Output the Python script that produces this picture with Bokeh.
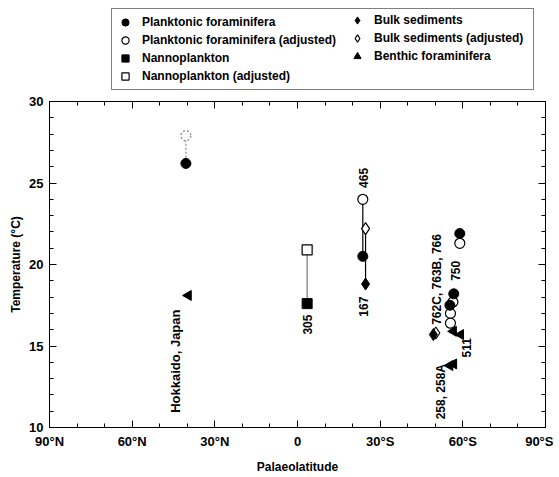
import numpy as np
from bokeh.plotting import figure
from bokeh.layouts import column
from bokeh.models import Range1d, FixedTicker, LinearAxis, Legend, LegendItem
from bokeh.core.properties import value
from bokeh.embed import file_html
from bokeh.resources import INLINE

FONT = "Liberation Sans"

# palaeolatitude: negative = north, positive = south
pf_lat = [-40.5, 23.7, 58.9, 56.7, 55.3]
pf_temp = [26.2, 20.5, 21.9, 18.2, 17.5]
pfa_lat = [23.7, 58.9, 56.4, 55.5, 55.5]
pfa_temp = [24.0, 21.3, 17.7, 17.0, 16.4]
hok_adj_lat = [-40.5]
hok_adj_temp = [27.9]
nan_lat = [3.5]
nan_temp = [17.6]
nana_lat = [3.5]
nana_temp = [20.9]
bulk_lat = [24.7, 49.3]
bulk_temp = [18.8, 15.7]
bulka_lat = [24.7, 50.2]
bulka_temp = [22.2, 15.8]
ben_lat = [-39.6, 56.6, 59.2, 55.3, 56.7]
ben_temp = [18.1, 15.9, 15.7, 13.8, 13.9]

# adjusted / measured pairs joined by lines
pair_lat = [3.5, 23.7, 24.7, 58.9]
pair_adj = [20.9, 24.0, 22.2, 21.9]
pair_meas = [17.6, 20.5, 18.8, 21.3]
pair_color = ["#777777", "black", "black", "black"]

# site labels
label_text = ["Hokkaido, Japan", "305", "167", "465", "762C, 763B, 766", "750", "511", "258, 258A"]
label_lat = [-44.3, 3.5, 23.9, 23.9, 50.8, 57.3, 61.3, 51.9]
label_temp = [10.9, 15.7, 16.8, 24.7, 16.3, 19.0, 14.3, 10.5]
label_size = ["13px", "12px", "12px", "12px", "12px", "12px", "12px", "12px"]

x_ticks = [-90, -60, -30, 0, 30, 60, 90]
x_tick_labels = ["90°N", "60°N", "30°N", "0", "30°S", "60°S", "90°S"]
x_minor = list(range(-90, 91, 10))
y_ticks = [10, 15, 20, 25, 30]
y_minor = list(range(10, 31))

STYLES = {
    "pf": dict(marker="circle", size=10, fill_color="black", line_color="black"),
    "pfa": dict(marker="circle", size=10, fill_color="white", line_color="black", line_width=1.2),
    "nan": dict(marker="square", size=10, fill_color="black", line_color="black"),
    "nana": dict(marker="square", size=10, fill_color="white", line_color="black", line_width=1.2),
    "bulk": dict(marker="diamond", size=12, fill_color="black", line_color="black"),
    "bulka": dict(marker="diamond", size=12, fill_color="white", line_color="black", line_width=1.2),
    "ben": dict(marker="triangle", size=10, angle=np.pi / 2, fill_color="black", line_color="black"),
}
SERIES = {
    "pf": (pf_lat, pf_temp), "pfa": (pfa_lat, pfa_temp),
    "nan": (nan_lat, nan_temp), "nana": (nana_lat, nana_temp),
    "bulk": (bulk_lat, bulk_temp), "bulka": (bulka_lat, bulka_temp),
    "ben": (ben_lat, ben_temp),
}

# ---------------- main plot ----------------
p = figure(width=553, height=384, output_backend="svg", toolbar_location=None,
           x_range=Range1d(-90, 90), y_range=Range1d(10, 30),
           min_border_left=49, min_border_right=8, min_border_top=9, min_border_bottom=48)
p.background_fill_color = "white"
p.border_fill_color = "white"
p.outline_line_color = "black"
p.outline_line_width = 1
p.xgrid.visible = False
p.ygrid.visible = False

def style_axis(ax, labels=True):
    ax.axis_line_color = "black"
    ax.major_tick_in = 7
    ax.major_tick_out = 0
    ax.minor_tick_in = 4
    ax.minor_tick_out = 0
    ax.major_tick_line_color = "black"
    ax.minor_tick_line_color = "black"
    ax.major_label_text_font = FONT
    ax.major_label_text_font_style = "bold"
    ax.major_label_text_font_size = "13px" if labels else "0px"
    ax.major_label_text_color = "black"
    ax.axis_label_text_font = FONT
    ax.axis_label_text_font_style = "bold"
    ax.axis_label_text_font_size = "12px"
    ax.axis_label_text_color = "black"

xt = FixedTicker(ticks=x_ticks, minor_ticks=x_minor)
yt = FixedTicker(ticks=y_ticks, minor_ticks=y_minor)

p.xaxis.ticker = xt
p.xaxis.major_label_overrides = dict(zip(x_ticks, x_tick_labels))
p.xaxis.axis_label = "Palaeolatitude"
p.xaxis.major_label_standoff = 6
p.xaxis.axis_label_standoff = 8
p.yaxis.ticker = yt
p.yaxis.axis_label = "Temperature (°C)"
p.yaxis.major_label_standoff = 6
p.yaxis.axis_label_standoff = 3
style_axis(p.xaxis[0])
style_axis(p.yaxis[0])

top_ax = LinearAxis(ticker=xt)
style_axis(top_ax, labels=False)
p.add_layout(top_ax, "above")
right_ax = LinearAxis(ticker=yt)
style_axis(right_ax, labels=False)
p.add_layout(right_ax, "right")

# connecting lines
p.segment(x0=pair_lat, y0=pair_adj, x1=pair_lat, y1=pair_meas, line_color=pair_color, line_width=1.2)
p.segment(x0=hok_adj_lat, y0=hok_adj_temp, x1=pf_lat[:1], y1=pf_temp[:1],
          line_color="#888888", line_width=1.2, line_dash="2 2")

p.scatter(*SERIES["pfa"], **STYLES["pfa"])
p.scatter(hok_adj_lat, hok_adj_temp, marker="circle", size=10, fill_color="white",
          line_color="#888888", line_width=1.2, line_dash="2 2")
for k in ["nana", "bulka", "pf", "nan", "bulk", "ben"]:
    p.scatter(*SERIES[k], **STYLES[k])

p.text(x=label_lat, y=label_temp, text=label_text, angle=np.pi / 2,
       text_align="left", text_baseline="middle", text_font=value(FONT),
       text_font_style="bold", text_font_size=label_size, text_color="black")

# ---------------- legend strip (its ranges keep the key marks out of view) ----------------
lf = figure(width=553, height=92, output_backend="svg", toolbar_location=None,
            x_axis_type=None, y_axis_type=None, x_range=Range1d(200, 300), y_range=Range1d(200, 300),
            min_border=0)
lf.outline_line_color = None
lf.xgrid.visible = False
lf.ygrid.visible = False
key = {k: lf.scatter(*SERIES[k], **STYLES[k]) for k in STYLES}

def make_legend(items, loc, border, lw):
    return Legend(items=items, location=loc, orientation="vertical",
                  glyph_width=18, glyph_height=18, label_height=14, label_width=lw,
                  label_standoff=8, spacing=0, padding=4, margin=0,
                  label_text_font=FONT, label_text_font_style="bold",
                  label_text_font_size="12px", label_text_color="black",
                  background_fill_alpha=1.0 if border else 0.0,
                  border_line_color="black" if border else None, border_line_width=1.2)

legA = make_legend([
    LegendItem(label="Planktonic foraminifera", renderers=[key["pf"]]),
    LegendItem(label="Planktonic foraminifera (adjusted)", renderers=[key["pfa"]]),
    LegendItem(label="Nannoplankton", renderers=[key["nan"]]),
    LegendItem(label="Nannoplankton (adjusted)", renderers=[key["nana"]]),
], (62, 2), True, 387)
legB = make_legend([
    LegendItem(label="Bulk sediments", renderers=[key["bulk"]]),
    LegendItem(label="Bulk sediments (adjusted)", renderers=[key["bulka"]]),
    LegendItem(label="Benthic foraminifera", renderers=[key["ben"]]),
], (299, 27), False, 20)
lf.add_layout(legA, "center")
lf.add_layout(legB, "center")

layout = column(lf, p, spacing=0)
open("out.html", "w").write(file_html(layout, INLINE))
